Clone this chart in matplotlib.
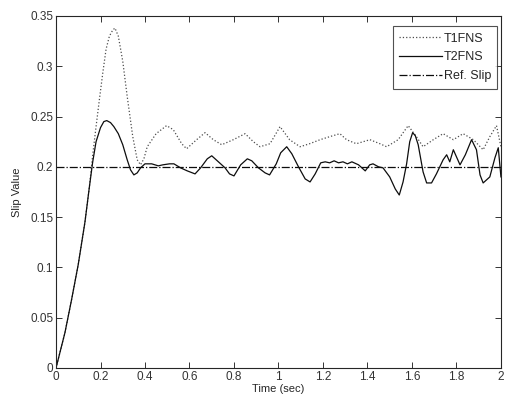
import matplotlib.pyplot as plt

plt.rcParams['font.family'] = ['Liberation Sans', 'DejaVu Sans']

# values
t_t2 = [0.0, 0.04, 0.07, 0.10, 0.13, 0.15, 0.165, 0.18, 0.20, 0.215, 0.228, 0.245,
        0.26, 0.28, 0.30, 0.32, 0.335, 0.35, 0.365, 0.38, 0.40, 0.43, 0.46, 0.48,
        0.51, 0.53, 0.56, 0.59, 0.625, 0.65, 0.68, 0.70, 0.73, 0.76, 0.78, 0.80,
        0.83, 0.86, 0.88, 0.91, 0.94, 0.96, 0.99, 1.01, 1.037, 1.06, 1.09, 1.12,
        1.142, 1.165, 1.19, 1.21, 1.23, 1.25, 1.27, 1.29, 1.31, 1.33, 1.36, 1.39,
        1.41, 1.425, 1.45, 1.47, 1.50, 1.525, 1.543, 1.56, 1.576, 1.59, 1.603,
        1.615, 1.628, 1.65, 1.666, 1.688, 1.71, 1.74, 1.756, 1.77, 1.786, 1.80,
        1.816, 1.84, 1.868, 1.89, 1.906, 1.92, 1.95, 1.973, 1.988, 2.0]
y_t2 = [0.0, 0.035, 0.068, 0.103, 0.145, 0.180, 0.205, 0.225, 0.239, 0.245, 0.246, 0.244,
        0.240, 0.233, 0.222, 0.207, 0.197, 0.192, 0.194, 0.199, 0.203, 0.203, 0.201, 0.202,
        0.203, 0.203, 0.199, 0.196, 0.193, 0.199, 0.208, 0.211, 0.205, 0.199, 0.193, 0.191,
        0.202, 0.208, 0.206, 0.199, 0.194, 0.192, 0.203, 0.214, 0.220, 0.213, 0.200, 0.188,
        0.185, 0.193, 0.204, 0.205, 0.204, 0.206, 0.204, 0.205, 0.203, 0.205, 0.202, 0.196,
        0.202, 0.203, 0.200, 0.199, 0.190, 0.178, 0.172, 0.185, 0.203, 0.225, 0.234,
        0.231, 0.222, 0.195, 0.184, 0.184, 0.193, 0.207, 0.212, 0.205, 0.217, 0.210,
        0.202, 0.212, 0.227, 0.217, 0.192, 0.184, 0.190, 0.209, 0.219, 0.190]

t_t1 = [0.0, 0.04, 0.07, 0.10, 0.13, 0.15, 0.165, 0.18, 0.195, 0.21, 0.225, 0.24,
        0.255, 0.265, 0.28, 0.30, 0.32, 0.345, 0.365, 0.38, 0.395, 0.41, 0.45, 0.497,
        0.527, 0.565, 0.587, 0.632, 0.67, 0.707, 0.745, 0.797, 0.85, 0.887, 0.917,
        0.962, 1.007, 1.05, 1.097, 1.14, 1.187, 1.23, 1.276, 1.306, 1.35, 1.411,
        1.456, 1.486, 1.538, 1.583, 1.62, 1.65, 1.696, 1.74, 1.786, 1.83, 1.876,
        1.92, 1.95, 1.98, 2.0]
y_t1 = [0.0, 0.035, 0.068, 0.103, 0.145, 0.180, 0.212, 0.240, 0.267, 0.293, 0.317, 0.330,
        0.336, 0.338, 0.330, 0.305, 0.270, 0.230, 0.207, 0.202, 0.208, 0.220, 0.233, 0.241,
        0.237, 0.223, 0.218, 0.227, 0.234, 0.227, 0.222, 0.227, 0.233, 0.225, 0.220,
        0.223, 0.240, 0.227, 0.220, 0.223, 0.227, 0.230, 0.233, 0.227, 0.223, 0.227,
        0.223, 0.220, 0.227, 0.241, 0.230, 0.220, 0.227, 0.233, 0.227, 0.233, 0.227,
        0.217, 0.230, 0.241, 0.220]

ref_t = [0.0, 2.0]
ref_y = [0.2, 0.2]

xticks = [0, 0.2, 0.4, 0.6, 0.8, 1, 1.2, 1.4, 1.6, 1.8, 2]
xticklabels = ['0', '0.2', '0.4', '0.6', '0.8', '1', '1.2', '1.4', '1.6', '1.8', '2']
yticks = [0, 0.05, 0.1, 0.15, 0.2, 0.25, 0.3, 0.35]
yticklabels = ['0', '0.05', '0.1', '0.15', '0.2', '0.25', '0.3', '0.35']

fig = plt.figure(figsize=(5.06, 3.98), dpi=100)
ax = fig.add_axes([0.1107, 0.0754, 0.8793, 0.8844])

ax.plot(t_t1, y_t1, linestyle=':', color='0.3', linewidth=0.9, label='T1FNS')
ax.plot(t_t2, y_t2, linestyle='-', color='0.05', linewidth=0.9, label='T2FNS')
ax.plot(ref_t, ref_y, linestyle='-.', color='0.05', linewidth=0.9, label='Ref. Slip')

ax.set_xlim(0, 2)
ax.set_ylim(0, 0.35)
ax.set_xticks(xticks)
ax.set_xticklabels(xticklabels)
ax.set_yticks(yticks)
ax.set_yticklabels(yticklabels)
ax.tick_params(direction='in', top=True, right=True, length=4, width=0.7,
               labelsize=8.5, colors='0.2', pad=2)
for s in ax.spines.values():
    s.set_linewidth(0.8)
    s.set_color('0.15')

ax.set_xlabel('Time (sec)', fontsize=8, labelpad=1, color='0.15')
ax.set_ylabel('Slip Value', fontsize=8, labelpad=6, color='0.15')

leg = ax.legend(loc='upper right', bbox_to_anchor=(0.9917, 0.9707), borderaxespad=0,
                fontsize=9, frameon=True, fancybox=False, edgecolor='0.15',
                handlelength=3.4, handletextpad=0.15, borderpad=0.5,
                labelspacing=0.55)
leg.get_frame().set_linewidth(0.8)
for txt in leg.get_texts():
    txt.set_color('0.15')

fig.savefig('out.png', dpi=100)
